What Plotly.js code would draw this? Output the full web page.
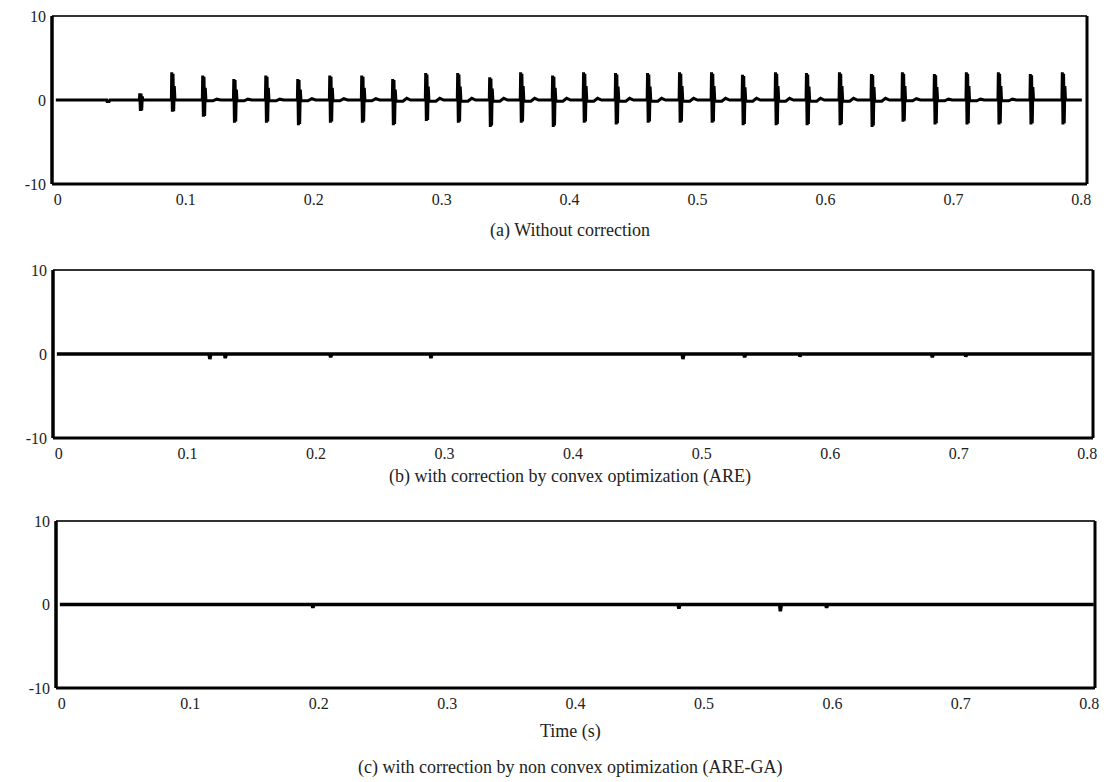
<!DOCTYPE html>
<html><head><meta charset="utf-8">
<script src="https://cdn.plot.ly/plotly-3.0.1.min.js"></script>
<style>html,body{margin:0;padding:0;background:#fff;overflow:hidden}</style>
</head><body><div id="chart" style="width:1115px;height:782px"></div>
<script>
// ---------- data ----------
// Panel (a) without correction: spike bursts (time in s, positive and negative peak)
const spikeTimesA = [0.0398, 0.0656, 0.0906, 0.1148, 0.1391, 0.1641, 0.1891, 0.2141, 0.2391, 0.2633,
  0.2891, 0.3141, 0.3391, 0.3633, 0.3883, 0.4125, 0.4375, 0.4625, 0.4875, 0.5125,
  0.5367, 0.5625, 0.5867, 0.6125, 0.6375, 0.6617, 0.6867, 0.7117, 0.7367, 0.7617, 0.7867];
const spikeMaxA = [0, 0.8, 3.3, 2.9, 2.5, 2.9, 2.5, 2.9, 2.9, 2.5,
  3.2, 3.2, 2.7, 3.3, 2.9, 3.3, 3.2, 3.2, 3.3, 3.3,
  3.0, 3.3, 3.2, 3.3, 3.1, 3.3, 3.1, 3.3, 3.3, 3.1, 3.3];
const spikeMinA = [-0.3, -1.3, -1.4, -2.0, -2.7, -2.7, -3.0, -2.7, -2.7, -3.0,
  -2.5, -2.7, -3.2, -2.7, -3.2, -2.7, -2.9, -2.7, -2.7, -2.7,
  -3.0, -3.0, -3.0, -3.0, -3.2, -2.6, -2.9, -2.9, -2.9, -2.9, -2.9];
// small baseline ripple after each burst (level just after, bump later in the interval)
const rippleAfterA = [0, 0, 0, -0.1, -0.1, -0.1, -0.1, -0.1, -0.1, -0.15,
  -0.15, -0.15, -0.15, -0.15, -0.15, -0.15, -0.15, -0.15, -0.15, -0.15,
  -0.15, -0.15, -0.15, -0.15, -0.15, -0.1, -0.1, -0.1, -0.1, 0, 0];
const rippleBumpA = [0, 0, 0, 0.1, 0.1, 0.1, 0.15, 0.15, 0.15, 0.2,
  0.2, 0.2, 0.2, 0.2, 0.2, 0.2, 0.2, 0.2, 0.2, 0.2,
  0.2, 0.2, 0.2, 0.2, 0.2, 0.15, 0.1, 0.1, 0.1, 0, 0];
// Panel (b) convex optimization (ARE): residual blips
const blipTimesB = [0.119, 0.131, 0.213, 0.291, 0.487, 0.535, 0.578, 0.681, 0.707];
const blipValuesB = [-0.6, -0.5, -0.4, -0.5, -0.6, -0.4, -0.3, -0.4, -0.3];
// Panel (c) non convex optimization (ARE-GA): residual blips
const blipTimesC = [0.197, 0.482, 0.561, 0.597];
const blipValuesC = [-0.4, -0.5, -0.8, -0.4];
const tStart = 0, tEndA = 0.802, tEndBC = 0.805;

const xTickVals = [0, 0.1, 0.2, 0.3, 0.4, 0.5, 0.6, 0.7, 0.8];
const xTickText = ['0', '0.1', '0.2', '0.3', '0.4', '0.5', '0.6', '0.7', '0.8'];
const yTickVals = [-10, 0, 10];
const yTickText = ['-10', '0', '10'];
const subtitles = ['(a) Without correction',
  '(b) with correction by convex optimization (ARE)',
  '(c) with correction by non convex optimization (ARE-GA)'];
const xTitle = 'Time (s)';

// ---------- build traces ----------
function buildSpikes(times, maxs, mins, after, bump, tEnd) {
  const x = [tStart], y = [0];
  for (let i = 0; i < times.length; i++) {
    const t = times[i];
    x.push(t - 0.0003, t, t + 0.0005, t + 0.001, t + 0.0015, t + 0.002, t + 0.0025);
    y.push(0, maxs[i], mins[i], maxs[i] * 0.95, mins[i] * 0.95, maxs[i] * 0.5, 0);
    if (after[i] !== 0 || bump[i] !== 0) {
      x.push(t + 0.0035, t + 0.008, t + 0.011, t + 0.014);
      y.push(after[i], after[i], bump[i], 0);
    }
  }
  x.push(tEnd); y.push(0);
  return {x, y};
}
function buildBlips(times, vals, tEnd) {
  const x = [tStart], y = [0];
  for (let i = 0; i < times.length; i++) {
    x.push(times[i] - 0.0006, times[i], times[i] + 0.0008);
    y.push(0, vals[i], 0);
  }
  x.push(tEnd); y.push(0);
  return {x, y};
}
const a = buildSpikes(spikeTimesA, spikeMaxA, spikeMinA, rippleAfterA, rippleBumpA, tEndA);
const b = buildBlips(blipTimesB, blipValuesB, tEndBC);
const c = buildBlips(blipTimesC, blipValuesC, tEndBC);

const traces = [
  {x: a.x, y: a.y, xaxis: 'x', yaxis: 'y', type: 'scatter', mode: 'lines',
   line: {color: '#000', width: 3}, hoverinfo: 'skip'},
  {x: b.x, y: b.y, xaxis: 'x2', yaxis: 'y2', type: 'scatter', mode: 'lines',
   line: {color: '#000', width: 3.5}, hoverinfo: 'skip'},
  {x: c.x, y: c.y, xaxis: 'x3', yaxis: 'y3', type: 'scatter', mode: 'lines',
   line: {color: '#000', width: 3.5}, hoverinfo: 'skip'}
];

const W = 1115, H = 782;
const font = {family: '"Liberation Serif", "Times New Roman", serif', color: '#222'};
function xax(l, r, anchor) {
  return {domain: [l / W, r / W], range: [-0.003, 0.806], anchor: anchor,
    tickmode: 'array', tickvals: xTickVals, ticktext: xTickText,
    ticks: '', showgrid: false, zeroline: false, showline: false,
    tickfont: Object.assign({size: 16}, font), ticklabelshift: 2, ticklabelstandoff: 4};
}
function yax(top, bottom, anchor) {
  return {domain: [1 - bottom / H, 1 - top / H], range: [-10, 10], anchor: anchor,
    tickmode: 'array', tickvals: yTickVals, ticktext: yTickText,
    ticks: '', showgrid: false, zeroline: false, showline: false,
    tickfont: Object.assign({size: 16}, font), ticklabelstandoff: 5};
}
const shapes = [];
['', '2', '3'].forEach(k => {
  const xr = 'x' + k + ' domain', yr = 'y' + k + ' domain';
  shapes.push({type: 'line', xref: xr, yref: yr, x0: 0, x1: 1, y0: 1, y1: 1, line: {color: '#333', width: 2}, layer: 'above'});
  shapes.push({type: 'line', xref: xr, yref: yr, x0: 1, x1: 1, y0: 0, y1: 1, line: {color: '#000', width: 3}, layer: 'above'});
  shapes.push({type: 'line', xref: xr, yref: yr, x0: 0, x1: 1, y0: 0, y1: 0, line: {color: '#000', width: 3}, layer: 'above'});
  shapes.push({type: 'line', xref: xr, yref: yr, x0: 0, x1: 0, y0: 0, y1: 1, line: {color: '#000', width: 3.5}, layer: 'above'});
});
function ann(text, yPx) {
  return {text: text, xref: 'paper', yref: 'paper', x: 570 / W, y: 1 - yPx / H,
    xanchor: 'center', yanchor: 'middle', showarrow: false,
    font: Object.assign({size: 18}, font)};
}
const layout = {
  width: W, height: H, margin: {l: 0, r: 0, t: 0, b: 0},
  paper_bgcolor: '#fff', plot_bgcolor: '#fff', showlegend: false,
  xaxis: xax(52, 1087, 'y'), yaxis: yax(16, 184, 'x'),
  xaxis2: xax(53, 1093, 'y2'), yaxis2: yax(270, 438, 'x2'),
  xaxis3: xax(56, 1095, 'y3'), yaxis3: yax(521, 688, 'x3'),
  shapes: shapes,
  annotations: [ann(subtitles[0], 230), ann(subtitles[1], 476), ann(xTitle, 731), ann(subtitles[2], 767)]
};
Plotly.newPlot('chart', traces, layout, {staticPlot: true, displayModeBar: false});
</script>
</body></html>
